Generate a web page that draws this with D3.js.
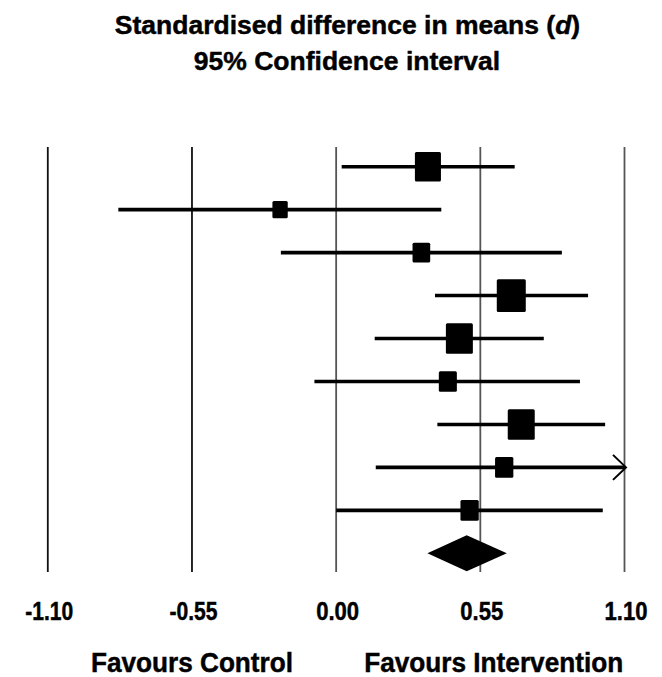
<!DOCTYPE html>
<html>
<head>
<meta charset="utf-8">
<script src="https://cdn.jsdelivr.net/npm/d3@7/dist/d3.min.js"></script>
<style>
  html, body { margin: 0; padding: 0; background: #fff; }
  svg { display: block; }
  text { font-family: "Liberation Sans", Arial, sans-serif; font-weight: bold; fill: #000; stroke: #000; stroke-width: 0.45px; }
</style>
</head>
<body>
<svg id="chart" width="662" height="677"></svg>
<script>
// ---- data ----
const studies   = ["Study 1","Study 2","Study 3","Study 4","Study 5","Study 6","Study 7","Study 8","Study 9"];
const estimates = [0.352, -0.212, 0.327, 0.670, 0.472, 0.428, 0.708, 0.643, 0.511];
const lowerCI   = [0.023, -0.829, -0.209, 0.379, 0.149, -0.081, 0.388, 0.153, 0.002];
const upperCI   = [0.683, 0.403, 0.863, 0.963, 0.794, 0.932, 1.028, 1.250, 1.019];
const weights   = [15.0, 5.2, 6.9, 18.6, 16.1, 7.2, 16.1, 7.4, 7.4];
const summaryEst = 0.500, summaryLo = 0.350, summaryHi = 0.653;
const tickValues = [-1.10, -0.55, 0.00, 0.55, 1.10];
const tickLabels = ["-1.10", "-0.55", "0.00", "0.55", "1.10"];
const titleLine1 = "Standardised difference in means (";
const titleItalic = "d";
const titleEnd = ")";
const titleLine2 = "95% Confidence interval";
const favLeft = "Favours Control";
const favRight = "Favours Intervention";

// ---- layout ----
const svg = d3.select("#chart");
const xMin = tickValues[0], xMax = tickValues[tickValues.length - 1];
const x = d3.scaleLinear().domain([xMin, xMax]).range([47.3, 624]);
const rowIdx = d3.range(studies.length + 1);
const y = d3.scalePoint().domain(rowIdx).range([166.7, 553.3]);
const gridTop = 147, gridBottom = 572;
const size = d3.scaleSqrt().domain([0, d3.max(weights)]).range([0, 29]);

// ---- gridlines + tick labels via axis ----
const axis = d3.axisBottom(x)
  .tickValues(tickValues)
  .tickFormat((d, i) => tickLabels[i])
  .tickSize(-(gridBottom - gridTop))
  .tickPadding(0);
const gAxis = svg.append("g")
  .attr("transform", `translate(0,${gridBottom})`)
  .call(axis);
gAxis.select(".domain").remove();
gAxis.selectAll(".tick line")
  .attr("stroke", d => d < 0 ? "#111" : "#555")
  .attr("stroke-width", 1.8);
gAxis.selectAll(".tick text")
  .attr("y", 48.3).attr("dy", 0).attr("dx", 1.5)
  .attr("fill", "#000")
  .attr("textLength", (d, i) => tickLabels[i].startsWith("-") ? 48 : 43)
  .attr("lengthAdjust", "spacingAndGlyphs")
  .style("font-family", '"Liberation Sans", Arial, sans-serif')
  .style("font-weight", "bold")
  .style("font-size", "25px");

// ---- CI lines ----
const rows = studies.map((s, i) => ({ s, i, est: estimates[i], lo: lowerCI[i], hi: upperCI[i], w: weights[i] }));
const g = svg.append("g");
g.selectAll("line.ci").data(rows).enter().append("line")
  .attr("class", "ci")
  .attr("x1", d => x(Math.max(d.lo, xMin)))
  .attr("x2", d => d.hi > xMax ? x(xMax) + 1 : x(d.hi))
  .attr("y1", d => y(d.i)).attr("y2", d => y(d.i))
  .attr("stroke", "#000").attr("stroke-width", 3.6);

// arrows for truncated intervals
g.selectAll("path.arrow").data(rows.filter(d => d.hi > xMax)).enter().append("path")
  .attr("class", "arrow")
  .attr("d", d => {
    const tx = x(xMax) + 2, ty = y(d.i);
    return `M${tx - 13},${ty - 12.5} L${tx},${ty} L${tx - 13},${ty + 12.5}`;
  })
  .attr("fill", "none").attr("stroke", "#000").attr("stroke-width", 2);

// ---- squares ----
g.selectAll("rect.box").data(rows).enter().append("rect")
  .attr("class", "box")
  .attr("x", d => x(d.est) - size(d.w) / 2)
  .attr("y", d => y(d.i) - size(d.w) * 1.13 / 2)
  .attr("width", d => size(d.w))
  .attr("height", d => size(d.w) * 1.13)
  .attr("rx", 1.5)
  .attr("fill", "#000");

// ---- summary diamond ----
const sy = y(studies.length);
const dh = 18;
g.append("path")
  .attr("d", `M${x(summaryLo)},${sy} L${x(summaryEst)},${sy - dh} L${x(summaryHi)},${sy} L${x(summaryEst)},${sy + dh} Z`)
  .attr("fill", "#000");

// ---- titles ----
const t1 = svg.append("text").attr("x", 347.5).attr("y", 34)
  .attr("text-anchor", "middle").style("font-size", "26.5px");
t1.append("tspan").text(titleLine1);
t1.append("tspan").style("font-style", "italic").text(titleItalic);
t1.append("tspan").text(titleEnd);
svg.append("text").attr("x", 347).attr("y", 70)
  .attr("text-anchor", "middle").style("font-size", "26.5px").text(titleLine2);

// ---- favours labels ----
svg.append("text").attr("x", x(-0.55) + 0.5).attr("y", 671.5)
  .attr("text-anchor", "middle").style("font-size", "28px")
  .attr("textLength", 202).attr("lengthAdjust", "spacingAndGlyphs").text(favLeft);
svg.append("text").attr("x", 493.7).attr("y", 671.5)
  .attr("text-anchor", "middle").style("font-size", "28px")
  .attr("textLength", 259).attr("lengthAdjust", "spacingAndGlyphs").text(favRight);
</script>
</body>
</html>
